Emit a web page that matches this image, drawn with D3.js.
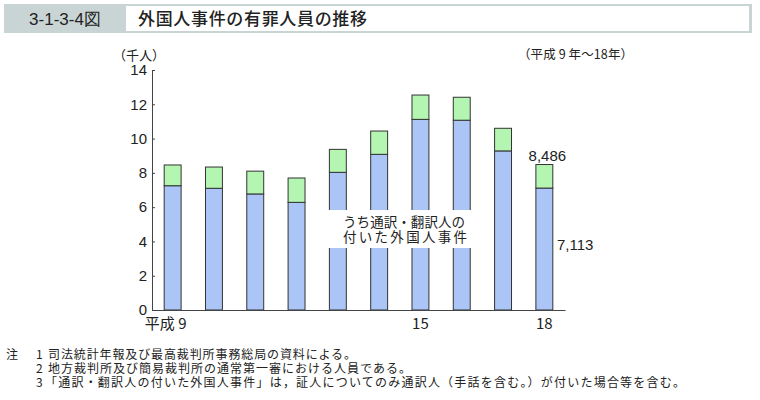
<!DOCTYPE html>
<html><head><meta charset="utf-8">
<script src="https://cdn.jsdelivr.net/npm/d3@7"></script>
<style>
body{margin:0;background:#fff;}
svg{display:block;}
</style></head>
<body>
<svg id="c" width="760" height="400"></svg>
<script>
const years = ["H9","H10","H11","H12","H13","H14","H15","H16","H17","H18"];
const tickLabels = ["平成 9","","","","","","15","","","18"];
const totalValues = [8.46, 8.34, 8.10, 7.70, 9.37, 10.44, 12.54, 12.41, 10.60, 8.486];
const interpValues = [7.25, 7.10, 6.77, 6.28, 8.03, 9.08, 11.12, 11.07, 9.28, 7.113];
const yTicks = [0,2,4,6,8,10,12,14];
const notes = [
  "司法統計年報及び最高裁判所事務総局の資料による。",
  "地方裁判所及び簡易裁判所の通常第一審における人員である。",
  "「通訳・翻訳人の付いた外国人事件」は，証人についてのみ通訳人（手話を含む。）が付いた場合等を含む。"
];

const svg = d3.select("#c");
const sans = "'Liberation Sans', Arial, sans-serif";
const jp = "'Noto Sans CJK JP', sans-serif";

// Title banner
svg.append("rect").attr("x",4).attr("y",4).attr("width",748).attr("height",29).attr("fill","#c9d5d5");
svg.append("rect").attr("x",126).attr("y",6).attr("width",623).attr("height",25).attr("fill","#fff");
svg.append("text").attr("x",65).attr("y",25).attr("text-anchor","middle")
  .attr("font-family","'Liberation Sans Narrow', 'Liberation Sans', sans-serif").attr("font-size",17).attr("fill","#222")
  .text("3-1-3-4図");
svg.append("text").attr("x",138).attr("y",25)
  .attr("font-family",jp).attr("font-size",17).attr("font-weight",500).attr("fill","#222")
  .attr("textLength",229).attr("lengthAdjust","spacing")
  .text("外国人事件の有罪人員の推移");

const x = d3.scaleBand().domain(years).range([152,565]).paddingInner(0.59).paddingOuter(0.295);
const y = d3.scaleLinear().domain([0,14]).range([310,70]);

// Y axis
const yAxis = svg.append("g").attr("transform","translate(152,0)")
  .call(d3.axisRight(y).tickValues(yTicks).tickSize(3).tickFormat(d3.format("d")));
yAxis.select(".domain").attr("stroke","#444");
yAxis.selectAll(".tick line").attr("stroke","#444");
yAxis.selectAll(".tick text").attr("x",-5).attr("text-anchor","end")
  .attr("font-family",sans).attr("font-size",15).attr("fill","#222");

// bars
const g = svg.append("g");
years.forEach((yr,i)=>{
  g.append("rect").attr("x",x(yr)).attr("width",x.bandwidth())
    .attr("y",y(interpValues[i])).attr("height",y(0)-y(interpValues[i]))
    .attr("fill","#abc5f7").attr("stroke","#333").attr("stroke-width",1);
  g.append("rect").attr("x",x(yr)).attr("width",x.bandwidth())
    .attr("y",y(totalValues[i])).attr("height",y(interpValues[i])-y(totalValues[i]))
    .attr("fill","#b3f5b1").attr("stroke","#333").attr("stroke-width",1);
});

// X axis
const xAxis = svg.append("g").attr("transform","translate(0,310)")
  .call(d3.axisBottom(x).tickSize(0).tickSizeOuter(0).tickFormat((d,i)=>tickLabels[i]));
xAxis.select(".domain").attr("stroke","#444");
xAxis.selectAll(".tick text").attr("dy","1.05em")
  .attr("font-family",jp).attr("font-size",15).attr("fill","#222")
  .attr("dx",(d,i)=> i===0 ? -7 : 0);

// annotation box
svg.append("rect").attr("x",322).attr("y",210).attr("width",155).attr("height",38).attr("fill","#fff");
svg.append("text").attr("x",404).attr("y",227).attr("text-anchor","middle")
  .attr("font-family",jp).attr("font-size",13.5).attr("fill","#222")
  .attr("textLength",122).attr("lengthAdjust","spacing").text("うち通訳・翻訳人の");
svg.append("text").attr("x",405).attr("y",242).attr("text-anchor","middle")
  .attr("font-family",jp).attr("font-size",13.5).attr("fill","#222")
  .attr("textLength",124).attr("lengthAdjust","spacing").text("付いた外国人事件");

// value labels
const last = years.length-1;
svg.append("text").attr("x",x(years[last])+x.bandwidth()/2+3).attr("y",y(totalValues[last])-4).attr("text-anchor","middle")
  .attr("font-family",sans).attr("font-size",15).attr("fill","#222")
  .text(d3.format(",")(Math.round(totalValues[last]*1000)));
svg.append("text").attr("x",557).attr("y",250)
  .attr("font-family",sans).attr("font-size",15).attr("fill","#222")
  .text(d3.format(",")(Math.round(interpValues[last]*1000)));

// units
svg.append("text").attr("x",113).attr("y",60).attr("font-family",jp).attr("font-size",13).attr("fill","#222").text("（千人）");
svg.append("text").attr("x",518).attr("y",59).attr("font-family",jp).attr("font-size",12.5).attr("fill","#222")
  .attr("textLength",115).attr("lengthAdjust","spacing").text("（平成 9 年～18年）");

// notes
const noteWidths = [308, 363, 640];
notes.forEach((n,i)=>{
  const t = svg.append("text").attr("y",359+i*14).attr("font-family",jp).attr("font-size",12).attr("fill","#222");
  if(i===0) t.append("tspan").attr("x",6).text("注");
  t.append("tspan").attr("x",36).text(String(i+1));
  t.append("tspan").attr("x",i===2?45:48).attr("textLength",noteWidths[i]).attr("lengthAdjust","spacing").text(n);
});
</script>
</body></html>
